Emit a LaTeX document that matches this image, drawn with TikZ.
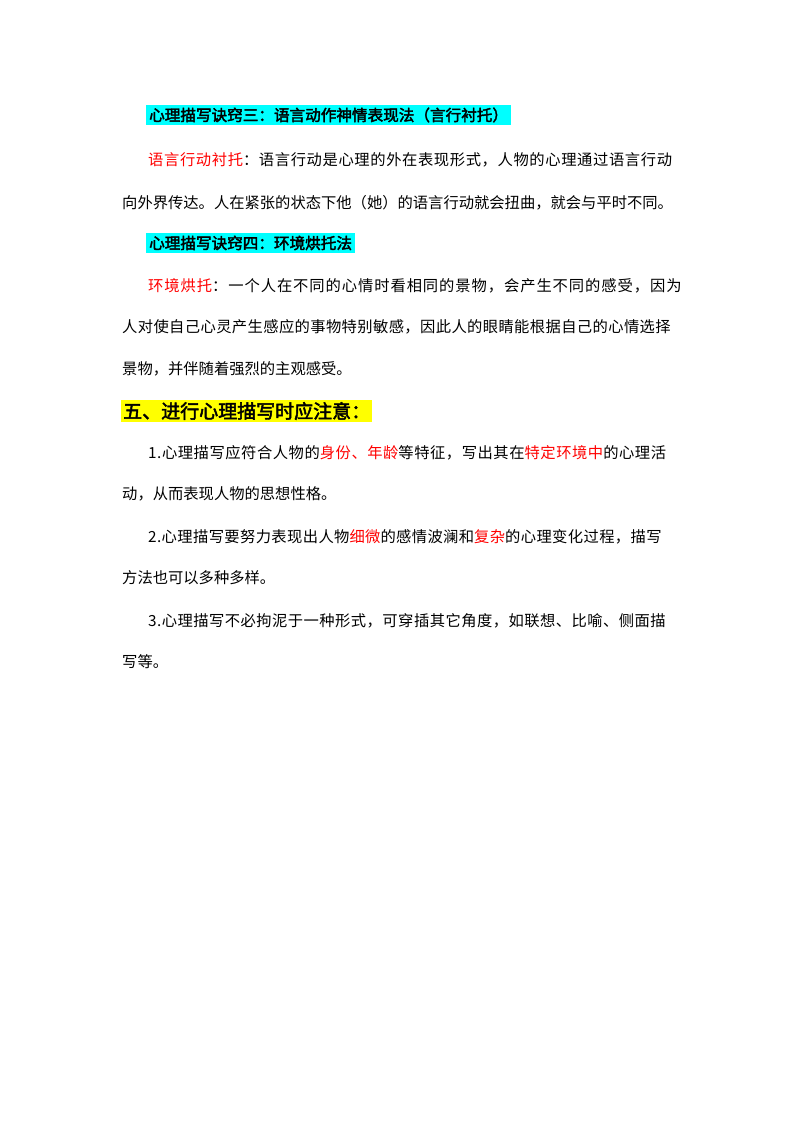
\documentclass[tikz,border=0pt]{standalone}
\usepackage{fontspec}
\newfontfamily\cjk{Noto Sans CJK SC}
\newfontfamily\cjkb[FakeBold=2.5]{Noto Sans CJK SC}
\definecolor{hcyan}{RGB}{0,255,255}
\definecolor{hyel}{RGB}{255,255,0}
\definecolor{rd}{RGB}{255,0,0}
\newcommand{\jline}[2]{\makebox[#1][l]{\addfontfeature{LetterSpace=#2}\ignorespaces}}
\begin{document}
\begin{tikzpicture}[x=1pt,y=-1pt,
  body/.style={anchor=west,inner sep=0pt,font=\cjk\fontsize{15.3}{16}\selectfont},
  head/.style={anchor=west,inner xsep=3pt,inner ysep=2.5pt,font=\cjkb\fontsize{15.6}{16}\selectfont,fill=hcyan},
  bighead/.style={anchor=west,inner sep=2pt,font=\cjkb\fontsize{19}{20}\selectfont,fill=hyel}]
\useasboundingbox (0,0) rectangle (800,1132);
\node[head] (h1) at (146,115) {心理描写诀窍三：语言动作神情表现法（言行衬托）};
\node[body] (l1) at (148,160) {\addfontfeature{LetterSpace=4}\textcolor{rd}{语言行动衬托}：语言行动是心理的外在表现形式，人物的心理通过语言行动};
\node[body] (l2) at (122,203) {向外界传达。人在紧张的状态下他（她）的语言行动就会扭曲，就会与平时不同。};
\node[head] (h2) at (146,243) {心理描写诀窍四：环境烘托法};
\node[body] (l3) at (148,286) {\addfontfeature{LetterSpace=6}\textcolor{rd}{环境烘托}：一个人在不同的心情时看相同的景物，会产生不同的感受，因为};
\node[body] (l4) at (122,327) {\addfontfeature{LetterSpace=2.5}人对使自己心灵产生感应的事物特别敏感，因此人的眼睛能根据自己的心情选择};
\node[body] (l5) at (122,369) {景物，并伴随着强烈的主观感受。};
\node[bighead] (h3) at (121,411) {五、进行心理描写时应注意：};
\node[body] (l6) at (148,453) {\addfontfeature{LetterSpace=3.5}1.心理描写应符合人物的\textcolor{rd}{身份、年龄}等特征，写出其在\textcolor{rd}{特定环境中}的心理活};
\node[body] (l7) at (122,494) {动，从而表现人物的思想性格。};
\node[body] (l8) at (148,537) {\addfontfeature{LetterSpace=2.5}2.心理描写要努力表现出人物\textcolor{rd}{细微}的感情波澜和\textcolor{rd}{复杂}的心理变化过程，描写};
\node[body] (l9) at (122,578) {方法也可以多种多样。};
\node[body] (l10) at (148,621) {\addfontfeature{LetterSpace=3}3.心理描写不必拘泥于一种形式，可穿插其它角度，如联想、比喻、侧面描};
\node[body] (l11) at (122,662) {写等。};
\end{tikzpicture}
\end{document}
